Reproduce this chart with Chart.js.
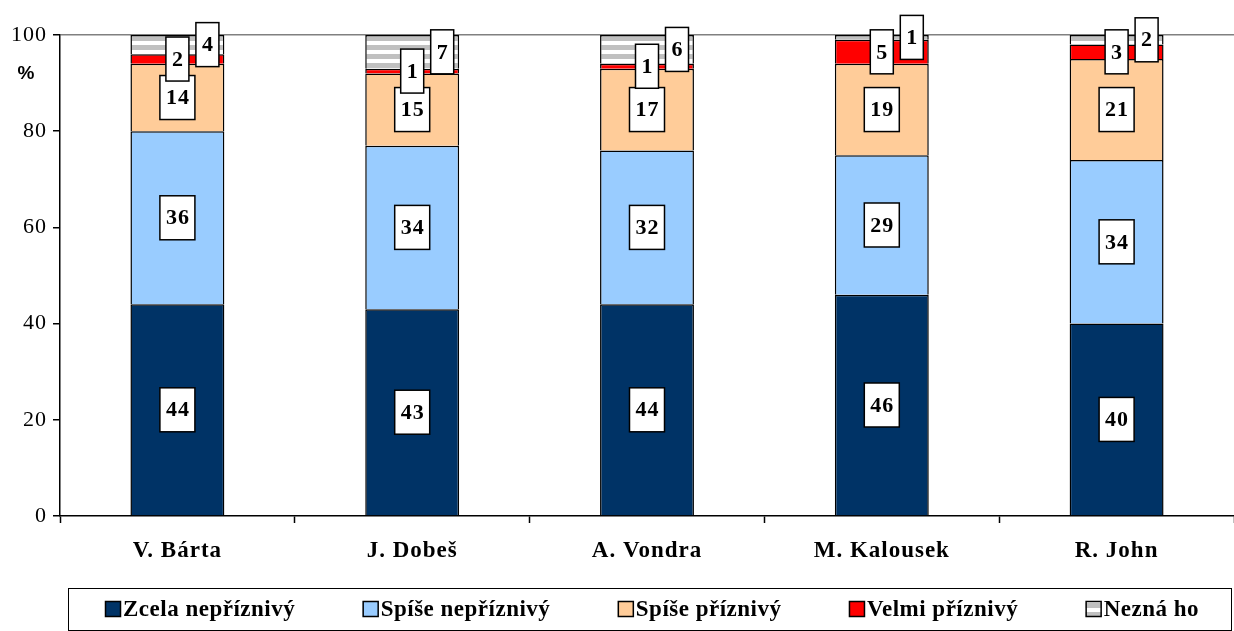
<!DOCTYPE html>
<html lang="cs">
  <head>
    <meta charset="UTF-8" />
    <title>Hodnocení politiků</title>
    <script src="https://cdn.jsdelivr.net/npm/chart.js"></script>
    <style>
      body { margin: 0; background: #fff; }
      .graf { position: relative; width: 1234px; height: 631px; }
    </style>
  </head>
  <body>
    <div class="graf">
      <canvas id="myChart"></canvas>
    </div>

<script>
  // data
  var kategorie = ["V. Bárta", "J. Dobeš", "A. Vondra", "M. Kalousek", "R. John"];
  var zcelaNepriznivy = [44, 43, 44, 46, 40];
  var spiseNepriznivy = [36, 34, 32, 29, 34];
  var spisePriznivy = [14, 15, 17, 19, 21];
  var velmiPriznivy = [2, 1, 1, 5, 3];
  var neznaHo = [4, 7, 6, 1, 2];
  var nazvyRad = ["Zcela nepříznivý", "Spíše nepříznivý", "Spíše příznivý", "Velmi příznivý", "Nezná ho"];
  var ticksY = [0, 20, 40, 60, 80, 100];

  // pruhovaná výplň pro "Nezná ho"
  function pruhy() {
    var c = document.createElement("canvas");
    c.width = 8;
    c.height = 9;
    var g = c.getContext("2d");
    g.fillStyle = "#ffffff";
    g.fillRect(0, 0, 8, 9);
    g.fillStyle = "#c0c0c0";
    g.fillRect(0, 0, 8, 5);
    return g.createPattern(c, "repeat");
  }

  var vzor = pruhy();
  var cores = ["#003366", "#99ccff", "#ffcc99", "#ff0000", vzor];
  var serif = "'Liberation Serif', 'Times New Roman', serif";

  // trochu prostrkané písmo jako v Excelu
  var prostrkat = {
    id: "prostrkat",
    beforeDraw: function (chart) { chart.ctx.letterSpacing = "1px"; }
  };

  // popisky hodnot v bílých rámečcích
  var popisky = {
    id: "popisky",
    afterDatasetsDraw: function (chart) {
      var ctx = chart.ctx;
      ctx.save();
      ctx.font = "bold 22px " + serif;
      ctx.textAlign = "center";
      ctx.textBaseline = "middle";
      chart.data.datasets.forEach(function (ds, i) {
        var meta = chart.getDatasetMeta(i);
        meta.data.forEach(function (bar, j) {
          var p = bar.getProps(["x", "y", "base"], true);
          var txt = String(ds.data[j]);
          var cx = p.x + (i === 4 ? 30 : 0);
          var cy = (p.y + p.base) / 2;
          var w = ctx.measureText(txt).width + 11;
          var h = 44;
          ctx.fillStyle = "#fff";
          ctx.fillRect(cx - w / 2, cy - h / 2, w, h);
          ctx.lineWidth = 1.5;
          ctx.strokeStyle = "#000";
          ctx.strokeRect(cx - w / 2, cy - h / 2, w, h);
          ctx.fillStyle = "#000";
          ctx.fillText(txt, cx + 0.5, cy + 1);
        });
      });
      ctx.restore();
    }
  };

  // legenda v rámečku dole + znak %
  var legenda = {
    id: "legenda",
    afterDraw: function (chart) {
      var ctx = chart.ctx;
      ctx.save();
      ctx.letterSpacing = "0px";
      ctx.font = "bold 19px 'Liberation Sans', Arial, sans-serif";
      ctx.fillStyle = "#000";
      ctx.textAlign = "center";
      ctx.textBaseline = "middle";
      ctx.fillText("%", 26, 74);

      ctx.strokeStyle = "#000";
      ctx.lineWidth = 1;
      ctx.strokeRect(68.5, 588.5, 1163, 42);

      ctx.letterSpacing = "0.5px";
      ctx.font = "bold 23px " + serif;
      ctx.textAlign = "left";
      var sirky = [];
      var celkem = 0;
      for (var i = 0; i < nazvyRad.length; i++) {
        var s = 18 + ctx.measureText(nazvyRad[i]).width;
        sirky.push(s);
        celkem += s;
      }
      var zacatek = 105, konec = 1199;
      var mezera = (konec - zacatek - celkem) / (nazvyRad.length - 1);
      var x = zacatek;
      var y = 609;
      for (var i = 0; i < nazvyRad.length; i++) {
        ctx.fillStyle = cores[i];
        ctx.fillRect(x, y - 8, 16, 16);
        ctx.strokeStyle = "#000";
        ctx.lineWidth = 1.5;
        ctx.strokeRect(x + 0.5, y - 7.5, 15, 15);
        ctx.fillStyle = "#000";
        ctx.fillText(nazvyRad[i], x + 18, y + 1);
        x += sirky[i] + mezera;
      }
      ctx.restore();
    }
  };

  var datasets = [zcelaNepriznivy, spiseNepriznivy, spisePriznivy, velmiPriznivy, neznaHo].map(function (d, i) {
    return {
      label: nazvyRad[i],
      data: d,
      backgroundColor: cores[i],
      borderColor: "#000",
      borderWidth: 1.5,
      categoryPercentage: 1,
      barPercentage: 0.4
    };
  });

  const ctx = document.getElementById("myChart");
  new Chart(ctx, {
    type: "bar",
    data: { labels: kategorie, datasets: datasets },
    options: {
      responsive: true,
      maintainAspectRatio: false,
      animation: false,
      layout: { padding: { top: 35, bottom: 56, left: 0, right: 0 } },
      plugins: {
        legend: { display: false },
        tooltip: { enabled: false }
      },
      scales: {
        x: {
          stacked: true,
          afterFit: function (s) { s.height = 59; },
          border: { color: "#000", width: 1.5 },
          grid: { offset: true, drawOnChartArea: false, tickLength: 7, tickColor: "#000", tickWidth: 1.5 },
          ticks: { color: "#000", padding: 14, font: { family: serif, size: 23, weight: "bold" } }
        },
        y: {
          stacked: true,
          min: 0,
          max: 100,
          afterFit: function (s) { s.width = 60; },
          afterBuildTicks: function (s) { s.ticks = ticksY.map(function (v) { return { value: v }; }); },
          border: { color: "#000", width: 1.5 },
          grid: {
            color: function (c) { return c.tick && c.tick.value === 100 ? "#808080" : "rgba(0,0,0,0)"; },
            lineWidth: 1.5,
            tickLength: 7,
            tickColor: "#000",
            tickWidth: 1.5
          },
          ticks: { color: "#000", padding: 6, font: { family: serif, size: 22 } }
        }
      }
    },
    plugins: [prostrkat, popisky, legenda]
  });
</script>
  </body>
</html>
